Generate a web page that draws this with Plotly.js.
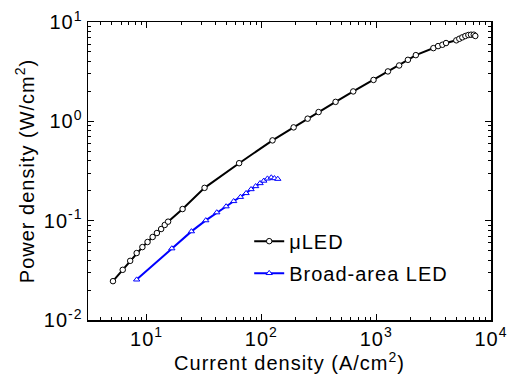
<!DOCTYPE html>
<html>
<head>
<meta charset="utf-8">
<script src="https://cdn.plot.ly/plotly-3.0.1.min.js"></script>
<style>
html,body{margin:0;padding:0;background:#fff;}
#plot{width:515px;height:374px;}
text{letter-spacing:1px;}
</style>
</head>
<body>
<div id="plot"></div>
<script>
// µLED: current density (A/cm^2) vs power density (W/cm^2)
var muLedCurrent = [5.1, 6.2, 7.2, 8.2, 9.2, 10.2, 11.3, 12.3, 13.4, 14.4, 15.4, 20.6, 32, 64, 125, 191, 253, 315, 443, 631, 948, 1265, 1585, 1890, 2215, 3150, 3460, 3775, 4060, 4990, 5300, 5630, 5980, 6350, 6700, 7080, 7300];
var muLedPower   = [0.0246, 0.032, 0.0394, 0.0472, 0.0542, 0.061, 0.0685, 0.0751, 0.0824, 0.0905, 0.0977, 0.131, 0.214, 0.379, 0.643, 0.869, 1.064, 1.24, 1.57, 2.0, 2.61, 3.18, 3.65, 4.16, 4.64, 5.46, 5.72, 5.90, 6.14, 6.54, 6.78, 7.01, 7.23, 7.40, 7.45, 7.45, 7.23];
// Broad-area LED
var broadCurrent = [8.2, 16.6, 24.6, 32.8, 40.9, 49.3, 57.4, 65.7, 73.6, 81.3, 89.1, 97.4, 105, 113, 122, 130, 139];
var broadPower   = [0.0255, 0.0525, 0.078, 0.1007, 0.121, 0.139, 0.157, 0.173, 0.189, 0.207, 0.222, 0.238, 0.252, 0.265, 0.272, 0.267, 0.263];

var seriesNames = ['\u03bcLED', 'Broad-area LED'];
var xDecades = [1, 2, 3, 4];
var yDecades = [-2, -1, 0, 1];

function decadeLabels(ds) { return ds.map(function(d){ return '10<sup>' + (d < 0 ? '-' : '') + Math.abs(d) + '</sup>'; }); }
function minorVals(lo, hi) { var v = []; for (var d = lo; d <= hi; d++) for (var m = 2; m <= 9; m++) v.push(m * Math.pow(10, d)); return v; }

var font = 'Liberation Sans, Arial, Helvetica, sans-serif';
var fs = 20;

var traces = [
  {x: muLedCurrent, y: muLedPower, name: seriesNames[0], type: 'scatter', mode: 'lines+markers', legendgroup: 'a',
   line: {color: '#000000', width: 2}, marker: {symbol: 'circle', size: 5.5, color: '#ffffff', line: {color: '#000000', width: 1}}},
  {x: broadCurrent, y: broadPower, name: seriesNames[1], type: 'scatter', mode: 'lines+markers', legendgroup: 'b',
   line: {color: '#0000ff', width: 2}, marker: {symbol: 'triangle-up', size: 5.5, color: '#ffffff', line: {color: '#0000ff', width: 1}}}
];

var axisCommon = {
  type: 'log', showgrid: false, zeroline: false, showline: true, linecolor: '#000', linewidth: 1.5, mirror: 'ticks',
  ticks: 'inside', ticklen: 6, tickwidth: 1, tickcolor: '#000', tickmode: 'array',
  tickfont: {family: font, size: fs, color: '#000'}
};

var layout = {
  width: 515, height: 374,
  margin: {l: 88, r: 24, t: 22, b: 54},
  paper_bgcolor: '#fff', plot_bgcolor: '#fff',
  font: {family: font, color: '#000'},
  showlegend: true,
  legend: {x: 0.40, y: 0.33, xanchor: 'left', yanchor: 'top', bgcolor: 'rgba(0,0,0,0)', borderwidth: 0,
           font: {family: font, size: fs, color: '#000'}, traceorder: 'grouped', tracegroupgap: 3},
  xaxis: Object.assign({}, axisCommon, {
    range: [0.49, 4],
    tickvals: xDecades.map(function(d){ return Math.pow(10, d); }), ticktext: decadeLabels(xDecades),
    minor: {tickmode: 'array', tickvals: minorVals(0, 3), ticks: 'inside', ticklen: 3, tickcolor: '#000', tickwidth: 1},
    title: {text: 'Current density (A/cm<sup>2</sup>)', font: {family: font, size: fs, color: '#000'}, standoff: 0}
  }),
  yaxis: Object.assign({}, axisCommon, {
    range: [-2, 1],
    tickvals: yDecades.map(function(d){ return Math.pow(10, d); }), ticktext: decadeLabels(yDecades),
    minor: {tickmode: 'array', tickvals: minorVals(-2, 0), ticks: 'inside', ticklen: 3, tickcolor: '#000', tickwidth: 1},
    title: {text: 'Power density (W/cm<sup>2</sup>)', font: {family: font, size: fs, color: '#000'}, standoff: 4}
  })
};

Plotly.newPlot('plot', traces, layout, {displayModeBar: false, staticPlot: true});
</script>
</body>
</html>
